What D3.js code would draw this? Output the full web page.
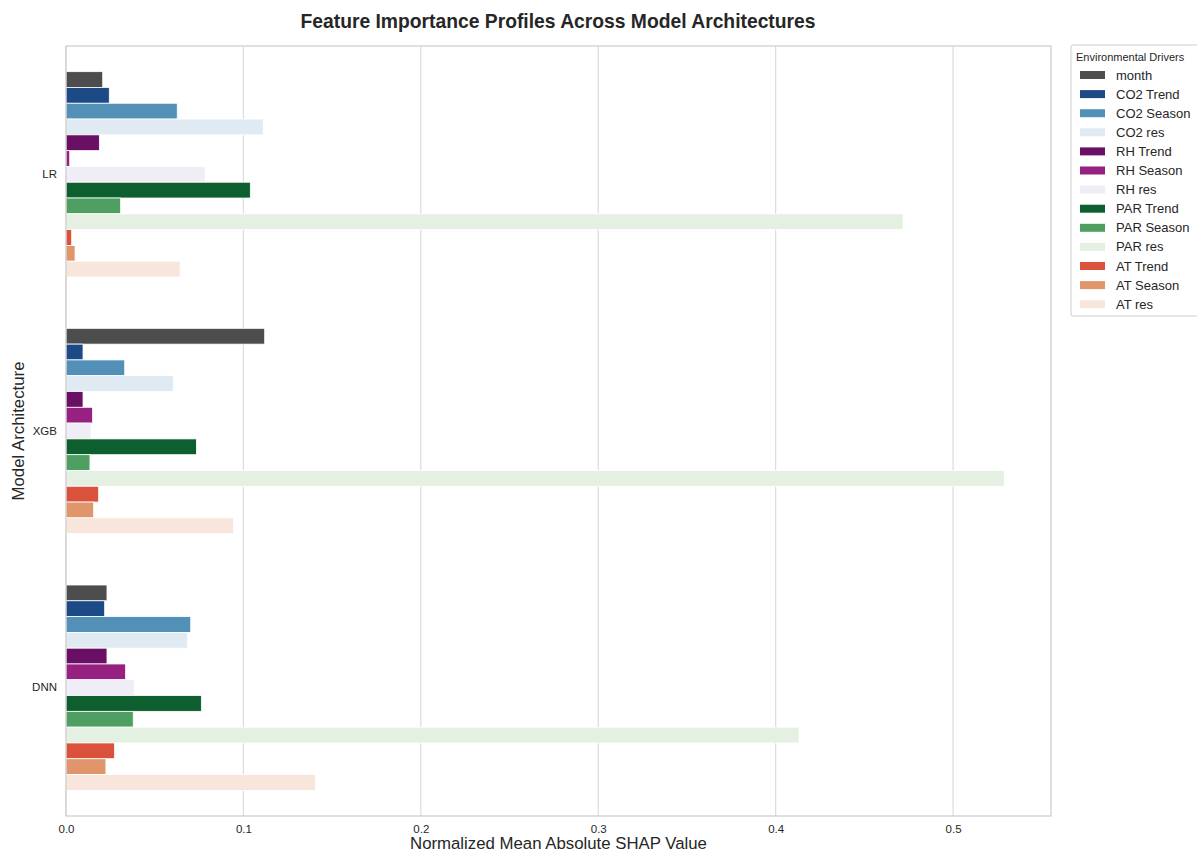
<!DOCTYPE html>
<html>
<head>
<meta charset="utf-8">
<script src="https://cdn.jsdelivr.net/npm/d3@7"></script>
<style>
  body { margin: 0; background: #fff; }
  svg { display: block; font-family: Arial, "Liberation Sans", sans-serif; }
</style>
</head>
<body>
<svg id="chart" width="1197" height="854"></svg>
<script>
// Models and drivers
const models = ["LR", "XGB", "DNN"];
const drivers = ["month", "CO2 Trend", "CO2 Season", "CO2 res", "RH Trend", "RH Season", "RH res",
                 "PAR Trend", "PAR Season", "PAR res", "AT Trend", "AT Season", "AT res"];
const driverColors = ["#4d4d4d", "#1b4a87", "#5290b7", "#e0eaf3", "#6a1064", "#972180", "#efedf5",
                      "#0e5f30", "#4f9e62", "#e4f1e2", "#da523b", "#e1956a", "#f8e5dc"];

// Normalized mean |SHAP| per driver, one array per model
const lrValues  = [0.0207, 0.0244, 0.0627, 0.1112, 0.0188, 0.0021, 0.0785, 0.1039, 0.0308, 0.4718, 0.0032, 0.0051, 0.0643];
const xgbValues = [0.1120, 0.0096, 0.0331, 0.0605, 0.0096, 0.0150, 0.0141, 0.0735, 0.0135, 0.5289, 0.0184, 0.0156, 0.0945];
const dnnValues = [0.0231, 0.0218, 0.0703, 0.0686, 0.0231, 0.0336, 0.0385, 0.0763, 0.0379, 0.4132, 0.0274, 0.0225, 0.1407];
const xTicks = [0.0, 0.1, 0.2, 0.3, 0.4, 0.5];

const valuesByModel = { LR: lrValues, XGB: xgbValues, DNN: dnnValues };
const rows = [];
models.forEach(m => drivers.forEach((d, i) => rows.push({ model: m, driver: d, value: valuesByModel[m][i] })));

const svg = d3.select("#chart");
const margin = { left: 66, right: 1051, top: 46, bottom: 816 };

const x = d3.scaleLinear().domain([0, 0.5552]).range([margin.left, margin.right]);
const y = d3.scaleBand().domain(models).range([margin.top, margin.bottom]).paddingInner(0.2).paddingOuter(0.1);
const yInner = d3.scaleBand().domain(drivers).range([0, y.bandwidth()]);
const color = d3.scaleOrdinal().domain(drivers).range(driverColors);

// Vertical grid
svg.append("g")
  .selectAll("line")
  .data(xTicks)
  .join("line")
  .attr("x1", d => x(d)).attr("x2", d => x(d))
  .attr("y1", margin.top).attr("y2", margin.bottom)
  .attr("stroke", "#dcdcdc").attr("stroke-width", 1.2);

// Bars
svg.append("g")
  .selectAll("rect")
  .data(rows)
  .join("rect")
  .attr("x", x(0))
  .attr("y", d => y(d.model) + yInner(d.driver))
  .attr("width", d => x(d.value) - x(0))
  .attr("height", yInner.bandwidth())
  .attr("fill", d => color(d.driver))
  .attr("stroke", "#ffffff")
  .attr("stroke-width", 0.8);

// Frame
svg.append("rect")
  .attr("x", margin.left).attr("y", margin.top)
  .attr("width", margin.right - margin.left).attr("height", margin.bottom - margin.top)
  .attr("fill", "none").attr("stroke", "#cccccc").attr("stroke-width", 1.2);

// X axis
const xAxis = svg.append("g")
  .attr("transform", `translate(0,${margin.bottom})`)
  .call(d3.axisBottom(x).tickValues(xTicks).tickFormat(d3.format(".1f")).tickSize(0).tickPadding(9));
xAxis.select(".domain").remove();
xAxis.selectAll("text").attr("font-size", 11.5).attr("fill", "#262626")
  .attr("font-family", "Arial, 'Liberation Sans', sans-serif");

// Y axis
const yAxis = svg.append("g")
  .attr("transform", `translate(${margin.left},0)`)
  .call(d3.axisLeft(y).tickSize(0).tickPadding(9));
yAxis.select(".domain").remove();
yAxis.selectAll("text").attr("font-size", 11.5).attr("fill", "#262626")
  .attr("font-family", "Arial, 'Liberation Sans', sans-serif");

// Titles
svg.append("text")
  .attr("x", 558).attr("y", 28)
  .attr("text-anchor", "middle")
  .attr("font-size", 19.3).attr("font-weight", "bold").attr("fill", "#262626")
  .text("Feature Importance Profiles Across Model Architectures");

svg.append("text")
  .attr("x", (margin.left + margin.right) / 2).attr("y", 849)
  .attr("text-anchor", "middle")
  .attr("font-size", 16.8).attr("fill", "#262626")
  .text("Normalized Mean Absolute SHAP Value");

svg.append("text")
  .attr("transform", `translate(24,${(margin.top + margin.bottom) / 2}) rotate(-90)`)
  .attr("text-anchor", "middle")
  .attr("font-size", 16.8).attr("fill", "#262626")
  .text("Model Architecture");

// Legend
const legend = svg.append("g").attr("transform", "translate(1071,45)");
legend.append("rect")
  .attr("x", 0).attr("y", 0).attr("width", 140).attr("height", 271)
  .attr("rx", 2)
  .attr("fill", "#fff").attr("stroke", "#cccccc").attr("stroke-width", 1);
legend.append("text")
  .attr("x", 5).attr("y", 16)
  .attr("font-size", 11).attr("fill", "#262626")
  .text("Environmental Drivers");
const item = legend.selectAll("g.item")
  .data(drivers)
  .join("g").attr("class", "item")
  .attr("transform", (d, i) => `translate(0,${30 + i * 19.1})`);
item.append("rect")
  .attr("x", 9).attr("y", -4).attr("width", 25).attr("height", 8)
  .attr("fill", d => color(d));
item.append("text")
  .attr("x", 45).attr("y", 4.5)
  .attr("font-size", 13).attr("fill", "#262626")
  .text(d => d);
</script>
</body>
</html>
